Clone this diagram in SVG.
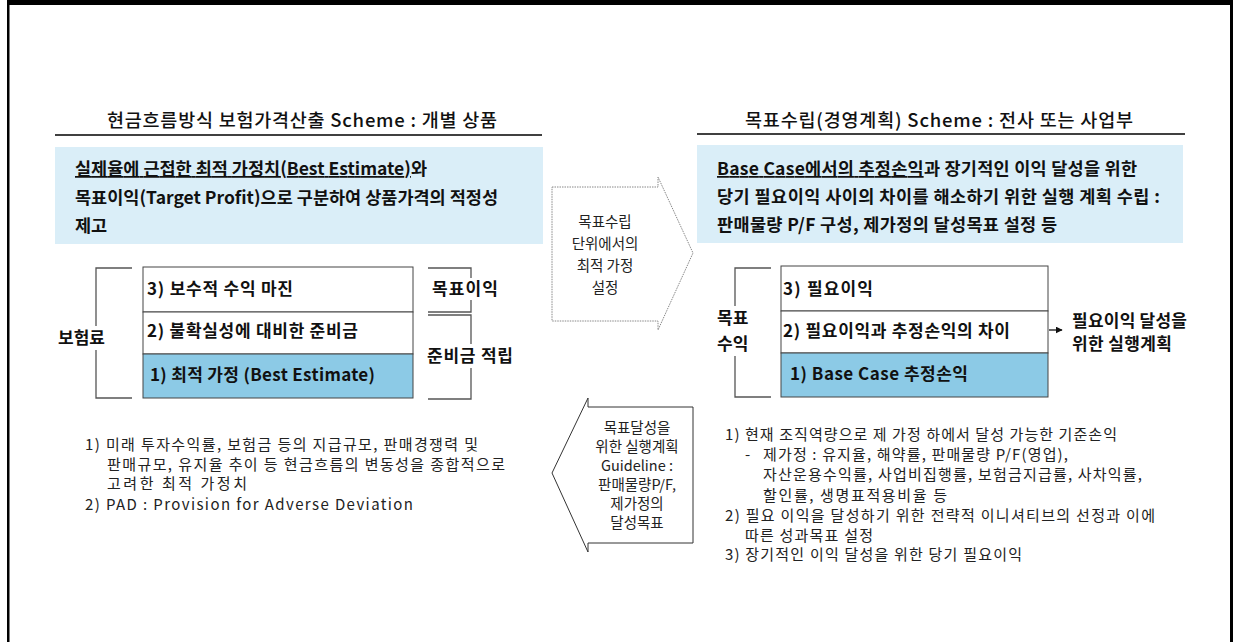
<svg xmlns="http://www.w3.org/2000/svg" width="1233" height="642" viewBox="0 0 1233 642">
<style>
text{font-family:"Noto Sans CJK KR","Noto Sans",sans-serif;fill:#111}
.title{font-size:18.5px;font-weight:500}
.box{font-size:17.5px;font-weight:bold}
.row{font-size:17px;font-weight:bold}
.lbl{font-size:17px;font-weight:bold}
.note{font-size:15px;fill:#222}
.arr{font-size:14.5px;fill:#222;text-anchor:middle}
.bracket{fill:none;stroke:#555;stroke-width:1.3}
.stack{fill:#fff;stroke:#444;stroke-width:1}
</style>
<defs>
<marker id="ah" viewBox="0 0 10 10" refX="9" refY="5" markerWidth="7" markerHeight="7" orient="auto" markerUnits="userSpaceOnUse"><path d="M0,0 L10,5 L0,10 z" fill="#111"/></marker>
</defs>
<rect width="1233" height="642" fill="#fff"/>
<g id="frame">
<rect x="7" y="0" width="1226" height="5" fill="#000"/>
<rect x="7" y="0" width="2.5" height="642" fill="#000"/>
<rect x="1230" y="0" width="3" height="642" fill="#000"/>
</g>

<g id="left-title">
<text class="title" x="107" y="127" textLength="390" lengthAdjust="spacing">현금흐름방식 보험가격산출 Scheme : 개별 상품</text>
<line x1="55" y1="135" x2="542" y2="135" stroke="#000" stroke-width="1.5"/>
</g>
<g id="left-summary">
<rect x="55" y="147" width="488" height="97" fill="#daeef8"/>
<text class="box" x="75" y="175" textLength="352" lengthAdjust="spacing"><tspan text-decoration="underline">실제율에 근접한 최적 가정치(Best Estimate)</tspan>와</text>
<text class="box" x="75" y="204" textLength="423" lengthAdjust="spacing">목표이익(Target Profit)으로 구분하여 상품가격의 적정성</text>
<text class="box" x="75" y="232">제고</text>
</g>

<g id="right-title">
<text class="title" x="745" y="127" textLength="388" lengthAdjust="spacing">목표수립(경영계획) Scheme : 전사 또는 사업부</text>
<line x1="697" y1="134" x2="1185" y2="134" stroke="#000" stroke-width="1.5"/>
</g>
<g id="right-summary">
<rect x="697" y="145" width="486" height="98" fill="#daeef8"/>
<text class="box" x="717" y="175" textLength="420" lengthAdjust="spacing"><tspan text-decoration="underline">Base Case에서의 추정손익</tspan>과 장기적인 이익 달성을 위한</text>
<text class="box" x="717" y="203" textLength="443" lengthAdjust="spacing">당기 필요이익 사이의 차이를 해소하기 위한 실행 계획 수립 :</text>
<text class="box" x="717" y="231" textLength="340" lengthAdjust="spacing">판매물량 P/F 구성, 제가정의 달성목표 설정 등</text>
</g>

<g id="left-stack">
<rect class="stack" x="143" y="267" width="270" height="45"/>
<rect class="stack" x="143" y="312" width="270" height="42"/>
<rect x="143" y="354" width="270" height="44" fill="#8ccae6" stroke="#444" stroke-width="1"/>
<text class="row" x="147" y="295" textLength="146" lengthAdjust="spacing">3) 보수적 수익 마진</text>
<text class="row" x="147" y="337" textLength="211" lengthAdjust="spacing">2) 불확실성에 대비한 준비금</text>
<text class="row" x="150" y="381" textLength="225" lengthAdjust="spacing">1) 최적 가정 (Best Estimate)</text>
</g>

<g id="right-stack">
<rect class="stack" x="781" y="266" width="267" height="45"/>
<rect class="stack" x="781" y="311" width="267" height="42"/>
<rect x="781" y="353" width="267" height="44" fill="#8ccae6" stroke="#444" stroke-width="1"/>
<text class="row" x="783" y="295" textLength="90" lengthAdjust="spacing">3) 필요이익</text>
<text class="row" x="783" y="337" textLength="227" lengthAdjust="spacing">2) 필요이익과 추정손익의 차이</text>
<text class="row" x="790" y="380" textLength="178" lengthAdjust="spacing">1) Base Case 추정손익</text>
</g>

<g id="connectors">
<path class="bracket" d="M132,268 H96 V398 H132"/>
<path class="bracket" d="M428,268 H471 V312 H428"/>
<path class="bracket" d="M428,315 H471 V399 H428"/>
<path class="bracket" d="M771,268 H735 V397 H771"/>
<line x1="1049" y1="330" x2="1062" y2="330" stroke="#111" stroke-width="1.3" marker-end="url(#ah)"/>
</g>

<g id="label-premium">
<rect x="56" y="326" width="44" height="24" fill="#fff"/>
<text class="lbl" x="58" y="344">보험료</text>
</g>
<g id="label-target-profit">
<rect x="430" y="278" width="70" height="22" fill="#fff"/>
<text class="lbl" x="432" y="295" textLength="66" lengthAdjust="spacing">목표이익</text>
</g>
<g id="label-reserve">
<rect x="425" y="344" width="90" height="24" fill="#fff"/>
<text class="lbl" x="427" y="362" textLength="86" lengthAdjust="spacing">준비금 적립</text>
</g>
<g id="label-target-income">
<rect x="715" y="306" width="42" height="50" fill="#fff"/>
<text class="lbl"><tspan x="717" y="324">목표</tspan><tspan x="717" y="350">수익</tspan></text>
</g>
<g id="label-action">
<text class="lbl"><tspan x="1072" y="327" textLength="115" lengthAdjust="spacing">필요이익 달성을</tspan><tspan x="1072" y="350" textLength="100" lengthAdjust="spacing">위한 실행계획</tspan></text>
</g>

<g id="arrow-right">
<polygon points="552,187 658,187 658,177 693,253 658,330 658,321 552,321" fill="#fff" stroke="#888" stroke-width="1" stroke-dasharray="1.5,1"/>
<text class="arr"><tspan x="605" y="227">목표수립</tspan><tspan x="605" y="249">단위에서의</tspan><tspan x="605" y="271">최적 가정</tspan><tspan x="605" y="293">설정</tspan></text>
</g>

<g id="arrow-left">
<polygon points="693,407 588,407 588,398 552,473 588,552 588,543 693,543" fill="#fff" stroke="#333" stroke-width="1"/>
<text class="arr"><tspan x="637" y="433">목표달성을</tspan><tspan x="637" y="452">위한 실행계획</tspan><tspan x="637" y="471">Guideline :</tspan><tspan x="637" y="490">판매물량P/F,</tspan><tspan x="637" y="509">제가정의</tspan><tspan x="637" y="528">달성목표</tspan></text>
</g>

<g id="left-notes">
<text class="note"><tspan x="85" y="450" textLength="393" lengthAdjust="spacing">1)  미래 투자수익률, 보험금 등의 지급규모, 판매경쟁력 및</tspan><tspan x="107" y="470" textLength="398" lengthAdjust="spacing">판매규모, 유지율 추이 등 현금흐름의 변동성을 종합적으로</tspan><tspan x="107" y="489" textLength="140" lengthAdjust="spacing">고려한 최적 가정치</tspan><tspan x="85" y="510" textLength="328" lengthAdjust="spacing">2)  PAD : Provision for Adverse Deviation</tspan></text>
</g>

<g id="right-notes">
<text class="note"><tspan x="725" y="440" textLength="392" lengthAdjust="spacing">1)  현재 조직역량으로 제 가정 하에서 달성 가능한 기준손익</tspan><tspan x="745" y="460">-</tspan><tspan x="763" y="460" textLength="305" lengthAdjust="spacing">제가정 : 유지율, 해약률, 판매물량 P/F(영업),</tspan><tspan x="763" y="480" textLength="379" lengthAdjust="spacing">자산운용수익률, 사업비집행률, 보험금지급률, 사차익률,</tspan><tspan x="763" y="501" textLength="184" lengthAdjust="spacing">할인률, 생명표적용비율 등</tspan><tspan x="725" y="521" textLength="430" lengthAdjust="spacing">2)  필요 이익을 달성하기 위한 전략적 이니셔티브의 선정과 이에</tspan><tspan x="745" y="541" textLength="128" lengthAdjust="spacing">따른 성과목표 설정</tspan><tspan x="725" y="560" textLength="297" lengthAdjust="spacing">3)  장기적인 이익 달성을 위한 당기 필요이익</tspan></text>
</g>
</svg>
